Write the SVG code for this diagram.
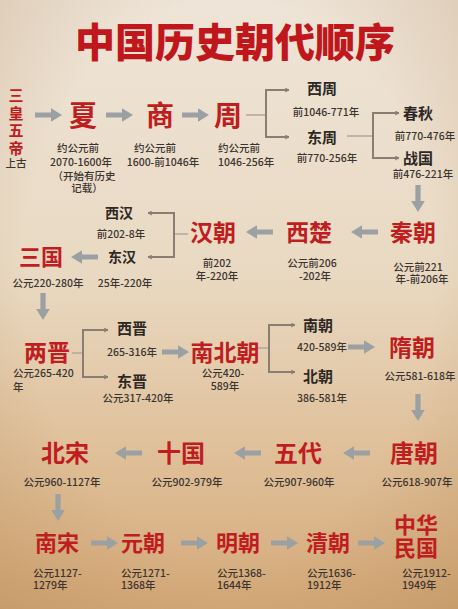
<svg xmlns="http://www.w3.org/2000/svg" xmlns:xlink="http://www.w3.org/1999/xlink" width="458" height="609" viewBox="0 0 458 609">
<defs>
<linearGradient id="bg" x1="0" y1="0" x2="0" y2="1">
<stop offset="0" stop-color="#eee4d7"/>
<stop offset="0.45" stop-color="#e9d9c2"/>
<stop offset="0.75" stop-color="#dfbf98"/>
<stop offset="1" stop-color="#d5aa7a"/>
</linearGradient>
<radialGradient id="vg" cx="0.5" cy="0.45" r="0.75">
<stop offset="0.6" stop-color="#a0703a" stop-opacity="0"/>
<stop offset="1" stop-color="#a0703a" stop-opacity="0.25"/>
</radialGradient>
<path id="a" d="M0,-2.6H16V-6.8L27,0L16,6.8V2.6H0Z"/>
<marker id="ch" viewBox="0 0 10 10" refX="9" refY="5" markerWidth="5" markerHeight="5" orient="auto" markerUnits="userSpaceOnUse">
<path d="M1,1L9,5L1,9" fill="none" stroke="#8a7d74" stroke-width="2"/>
</marker>
<style>
text{font-family:"Noto Sans CJK SC","Noto Sans",sans-serif;text-anchor:middle}
.t{fill:#c0171c;font-size:40px;font-weight:900}
.r{fill:#bf1d20;font-weight:700}
.k{fill:#2e2824;font-weight:700;font-size:15px}
.s{fill:#3b3430;font-size:10.5px;font-weight:500}
.l{text-anchor:start}
.arr use{fill:#9ba0a3}
.br{fill:none;stroke:#8a7d74;stroke-width:2}
.fa{fill:none;stroke:#b3a69a;stroke-width:1.5}
</style>
</defs>
<rect width="458" height="609" fill="url(#bg)"/>
<rect width="458" height="609" fill="url(#vg)"/>

<text class="t" x="235" y="57">中国历史朝代顺序</text>

<g id="connectors">
<g class="arr">
<use href="#a" transform="translate(35,115)"/>
<use href="#a" transform="translate(106,115)"/>
<use href="#a" transform="translate(182,115)"/>
<use href="#a" transform="translate(418,185) rotate(90)"/>
<use href="#a" transform="translate(378,232) rotate(180)"/>
<use href="#a" transform="translate(273,232) rotate(180)"/>
<use href="#a" transform="translate(98,257) rotate(180)"/>
<use href="#a" transform="translate(43,293) rotate(90)"/>
<use href="#a" transform="translate(162,352)"/>
<use href="#a" transform="translate(348,347)"/>
<use href="#a" transform="translate(418,394) rotate(90)"/>
<use href="#a" transform="translate(370,453) rotate(180)"/>
<use href="#a" transform="translate(261,453) rotate(180)"/>
<use href="#a" transform="translate(142,453) rotate(180)"/>
<use href="#a" transform="translate(58,494) rotate(90)"/>
<use href="#a" transform="translate(91,543)"/>
<use href="#a" transform="translate(181,543)"/>
<use href="#a" transform="translate(271,543)"/>
<use href="#a" transform="translate(358,543)"/>
</g>
<path class="fa" d="M246,115H266"/>
<path class="br" d="M266,115V90H289" marker-end="url(#ch)"/>
<path class="br" d="M266,115V137H289" marker-end="url(#ch)"/>
<path class="fa" d="M347,136H373"/>
<path class="br" d="M373,136V113H399" marker-end="url(#ch)"/>
<path class="br" d="M373,136V158H399" marker-end="url(#ch)"/>
<path class="fa" d="M188,234H174"/>
<path class="br" d="M174,234V213H148" marker-end="url(#ch)"/>
<path class="br" d="M174,234V257H148" marker-end="url(#ch)"/>
<path class="fa" d="M72,353H83"/>
<path class="br" d="M83,353V330H108" marker-end="url(#ch)"/>
<path class="br" d="M83,353V377H108" marker-end="url(#ch)"/>
<path class="fa" d="M258,348H269"/>
<path class="br" d="M269,348V325H295" marker-end="url(#ch)"/>
<path class="br" d="M269,348V372H295" marker-end="url(#ch)"/>
</g>

<g id="sanhuang">
<text class="r" style="font-size:15px" x="16" y="101">三<tspan x="16" dy="17.5">皇</tspan><tspan x="16" dy="17.5">五</tspan><tspan x="16" dy="17.5">帝</tspan><tspan class="s" style="font-weight:500;fill:#3b3430;font-size:10.5px" x="16" dy="13">上古</tspan></text>
</g>
<g id="xia">
<text class="r" style="font-size:28px" x="83" y="126">夏</text>
<text class="s" x="78" y="152">约公元前<tspan x="81" dy="14">2070-1600年</tspan><tspan x="84" dy="14">（开始有历史</tspan><tspan x="87" dy="12">记载）</tspan></text>
</g>
<g id="shang">
<text class="r" style="font-size:28px" x="160" y="126">商</text>
<text class="s" x="155" y="152">约公元前<tspan x="163" dy="14">1600-前1046年</tspan></text>
</g>
<g id="zhou">
<text class="r" style="font-size:28px" x="228" y="126">周</text>
<text class="s l" x="218" y="152">约公元前<tspan x="218" dy="14">1046-256年</tspan></text>
</g>
<g id="xizhou">
<text class="k" x="322" y="94">西周</text>
<text class="s" x="326" y="116">前1046-771年</text>
</g>
<g id="dongzhou">
<text class="k" x="322" y="143">东周</text>
<text class="s" x="327" y="162">前770-256年</text>
</g>
<g id="chunqiu">
<text class="k" x="418" y="119">春秋</text>
<text class="s" x="425" y="140">前770-476年</text>
</g>
<g id="zhanguo">
<text class="k" x="418" y="164">战国</text>
<text class="s" x="423" y="178">前476-221年</text>
</g>

<g id="qin">
<text class="r" style="font-size:23px" x="413" y="241">秦朝</text>
<text class="s" x="418" y="271">公元前221<tspan x="422" dy="12">年-前206年</tspan></text>
</g>
<g id="xichu">
<text class="r" style="font-size:23px" x="309" y="241">西楚</text>
<text class="s" x="312" y="267">公元前206<tspan x="315" dy="13">-202年</tspan></text>
</g>
<g id="han">
<text class="r" style="font-size:23px" x="213" y="241">汉朝</text>
<text class="s" x="217" y="267">前202<tspan x="217" dy="13">年-220年</tspan></text>
</g>
<g id="xihan">
<text class="k" style="font-size:14px" x="119" y="218">西汉</text>
<text class="s" x="121" y="238">前202-8年</text>
</g>
<g id="donghan">
<text class="k" style="font-size:14px" x="122" y="262">东汉</text>
<text class="s" x="125" y="287">25年-220年</text>
</g>
<g id="sanguo">
<text class="r" style="font-size:22px" x="41" y="265">三国</text>
<text class="s" x="48" y="287">公元220-280年</text>
</g>

<g id="liangjin">
<text class="r" style="font-size:23px" x="47" y="361">两晋</text>
<text class="s l" x="13" y="377">公元265-420<tspan x="13" dy="14">年</tspan></text>
</g>
<g id="xijin">
<text class="k" x="132" y="334">西晋</text>
<text class="s" x="132" y="356">265-316年</text>
</g>
<g id="dongjin">
<text class="k" x="132" y="387">东晋</text>
<text class="s" x="138" y="402">公元317-420年</text>
</g>
<g id="nanbei">
<text class="r" style="font-size:23px" x="225" y="361">南北朝</text>
<text class="s" x="223" y="377">公元420-<tspan x="225" dy="13">589年</tspan></text>
</g>
<g id="nanchao">
<text class="k" x="318" y="331">南朝</text>
<text class="s" x="322" y="351">420-589年</text>
</g>
<g id="beichao">
<text class="k" x="318" y="382">北朝</text>
<text class="s" x="322" y="402">386-581年</text>
</g>
<g id="sui">
<text class="r" style="font-size:23px" x="412" y="356">隋朝</text>
<text class="s" x="420" y="380">公元581-618年</text>
</g>

<g id="tang">
<text class="r" style="font-size:24px" x="414" y="462">唐朝</text>
<text class="s" x="417" y="486">公元618-907年</text>
</g>
<g id="wudai">
<text class="r" style="font-size:24px" x="298" y="462">五代</text>
<text class="s" x="299" y="486">公元907-960年</text>
</g>
<g id="shiguo">
<text class="r" style="font-size:24px" x="181" y="462">十国</text>
<text class="s" x="187" y="486">公元902-979年</text>
</g>
<g id="beisong">
<text class="r" style="font-size:24px" x="65" y="462">北宋</text>
<text class="s" x="62" y="486">公元960-1127年</text>
</g>

<g id="nansong">
<text class="r" style="font-size:22px" x="57" y="551">南宋</text>
<text class="s l" x="33" y="577">公元1127-<tspan x="33" dy="12">1279年</tspan></text>
</g>
<g id="yuan">
<text class="r" style="font-size:22px" x="143" y="551">元朝</text>
<text class="s l" x="121" y="577">公元1271-<tspan x="121" dy="12">1368年</tspan></text>
</g>
<g id="ming">
<text class="r" style="font-size:22px" x="238" y="551">明朝</text>
<text class="s l" x="217" y="577">公元1368-<tspan x="217" dy="12">1644年</tspan></text>
</g>
<g id="qing">
<text class="r" style="font-size:22px" x="328" y="551">清朝</text>
<text class="s l" x="307" y="577">公元1636-<tspan x="307" dy="12">1912年</tspan></text>
</g>
<g id="minguo">
<text class="r" style="font-size:22px" x="416" y="533">中华<tspan x="416" dy="23">民国</tspan></text>
<text class="s l" x="402" y="577">公元1912-<tspan x="402" dy="12">1949年</tspan></text>
</g>
</svg>
